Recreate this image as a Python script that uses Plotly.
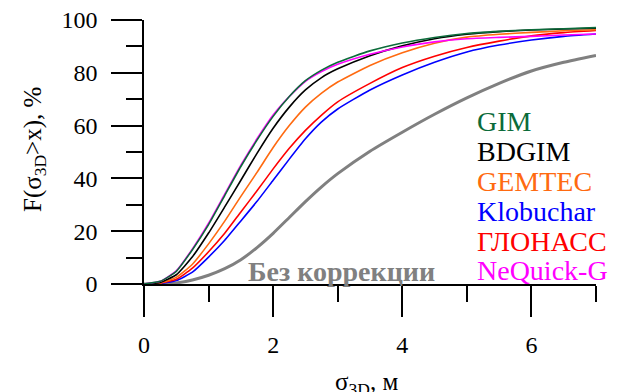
import plotly.graph_objects as go

x = [0, 0.25, 0.5, 0.75, 1, 1.25, 1.5, 1.75, 2, 2.25, 2.5, 2.75, 3, 3.5, 4, 4.5, 5, 5.5, 6, 6.5, 7]

gim       = [0, 1.0, 4.8, 13.0, 22.5, 33.5, 44.5, 54.5, 63.5, 71.0, 77.0, 81.0, 84.0, 88.3, 91.3, 93.4, 94.9, 95.7, 96.3, 96.7, 97.1]
bdgim     = [0, 0.6, 3.5, 10.3, 19.3, 29.2, 39.3, 49.5, 59.0, 67.0, 73.5, 78.2, 81.5, 86.5, 90.2, 92.9, 94.6, 95.6, 96.2, 96.6, 96.9]
gemtec    = [0, 0.4, 2.5, 7.5, 15.2, 23.8, 33.2, 42.3, 51.7, 60.0, 67.0, 72.3, 76.5, 82.8, 87.6, 91.2, 93.5, 94.6, 95.3, 95.9, 96.3]
klobuchar = [0, 0.2, 1.3, 4.5, 10.2, 16.6, 23.9, 31.3, 39.3, 47.3, 55.0, 61.4, 66.3, 73.5, 79.2, 84.0, 87.9, 90.5, 92.4, 93.8, 94.7]
glonass   = [0, 0.3, 1.8, 6.0, 12.2, 19.2, 27.3, 35.3, 43.6, 51.4, 58.2, 64.0, 69.0, 76.0, 82.0, 86.3, 89.6, 92.0, 94.0, 95.2, 96.0]
nequick   = [0, 1.0, 5.0, 13.3, 23.0, 34.0, 45.0, 55.0, 64.0, 71.0, 76.8, 80.5, 83.2, 87.0, 89.8, 91.7, 92.9, 93.4, 93.8, 94.3, 94.7]
nocorr    = [0, 0.0, 0.4, 1.5, 3.3, 5.8, 9.2, 13.8, 19.2, 25.2, 31.2, 36.8, 41.8, 50.3, 57.5, 64.3, 70.5, 76.0, 80.7, 84.0, 86.6]

names = ["GIM", "BDGIM", "GEMTEC", "Klobuchar", "ГЛОНАСС", "NeQuick-G"]
colors = ["#0b6b3a", "#000000", "#ff6a10", "#0000ff", "#ff0000", "#ff00ff"]
series = [gim, bdgim, gemtec, klobuchar, glonass, nequick]
nocorr_label = "Без коррекции"

# page body has an 8px margin: figure is drawn at (8, 8)
OFF = 8
W, H = 619 - OFF, 392 - OFF
L, R, T, B = 144 - OFF, 23, 20 - OFF, 108
pw, ph = W - L - R, H - T - B

def px(sx):
    return (sx - 144) / pw

def py(sy):
    return (284 - sy) / ph

fig = go.Figure()
fig.add_trace(go.Scatter(x=x, y=nocorr, mode="lines", line=dict(color="#808080", width=3, shape="spline", smoothing=0.5),
                         showlegend=False, hoverinfo="skip"))
order = [3, 4, 2, 1, 5, 0]
for i in order:
    fig.add_trace(go.Scatter(x=x, y=series[i], mode="lines",
                             line=dict(color=colors[i], width=1.6, shape="spline", smoothing=0.5),
                             name=names[i], showlegend=False, hoverinfo="skip"))

font = "Times New Roman, Liberation Serif, serif"

ann = []
label_y = [121, 151, 181, 211, 241, 270]
for nm, c, yy in zip(names, colors, label_y):
    ann.append(dict(text=nm, x=px(475), y=py(yy), xref="paper", yref="paper", xanchor="left", yanchor="middle",
                    showarrow=False, font=dict(family=font, size=28, color=c)))
ann.append(dict(text="<b>" + nocorr_label + "</b>", x=px(341), y=py(271), xref="paper", yref="paper",
                xanchor="center", yanchor="middle", showarrow=False,
                font=dict(family=font, size=28, color="#808080")))
ann.append(dict(text="F(σ<sub>3D</sub>>x), %", x=px(34), y=py(150), xref="paper", yref="paper",
                xanchor="center", yanchor="middle", textangle=-90, showarrow=False,
                font=dict(family=font, size=25, color="black")))
ann.append(dict(text="σ<sub>3D</sub>, м", x=px(366), y=py(366), xref="paper", yref="paper",
                xanchor="center", yanchor="top", showarrow=False,
                font=dict(family=font, size=25, color="black")))
fig.update_layout(annotations=ann)

fig.update_layout(
    width=W, height=H, margin=dict(l=L, r=R, t=T, b=B, pad=0),
    paper_bgcolor="white", plot_bgcolor="white",
    xaxis=dict(range=[0, 7], automargin=False, showgrid=False, zeroline=False, showline=True, linecolor="black", linewidth=1.5,
               ticks="outside", ticklen=31, tickwidth=1.5, tickcolor="black", tickvals=[0, 2, 4, 6],
               ticktext=["0", "2", "4", "6"], ticklabelstandoff=7, ticklabeloverflow="allow",
               tickfont=dict(family=font, size=24, color="black"),
               minor=dict(ticks="outside", ticklen=16, tickwidth=1.5, tickcolor="black", tickvals=[1, 3, 5, 7])),
    yaxis=dict(range=[0, 100], automargin=False, showgrid=False, zeroline=False, showline=True, linecolor="black", linewidth=1.5,
               ticks="outside", ticklen=31, tickwidth=1.5, tickcolor="black", tickvals=[0, 20, 40, 60, 80, 100],
               ticklabelstandoff=9, ticklabeloverflow="allow",
               tickfont=dict(family=font, size=24, color="black"),
               minor=dict(ticks="outside", ticklen=16, tickwidth=1.5, tickcolor="black", tickvals=[10, 30, 50, 70, 90])),
)

fig.write_html("out.html")
